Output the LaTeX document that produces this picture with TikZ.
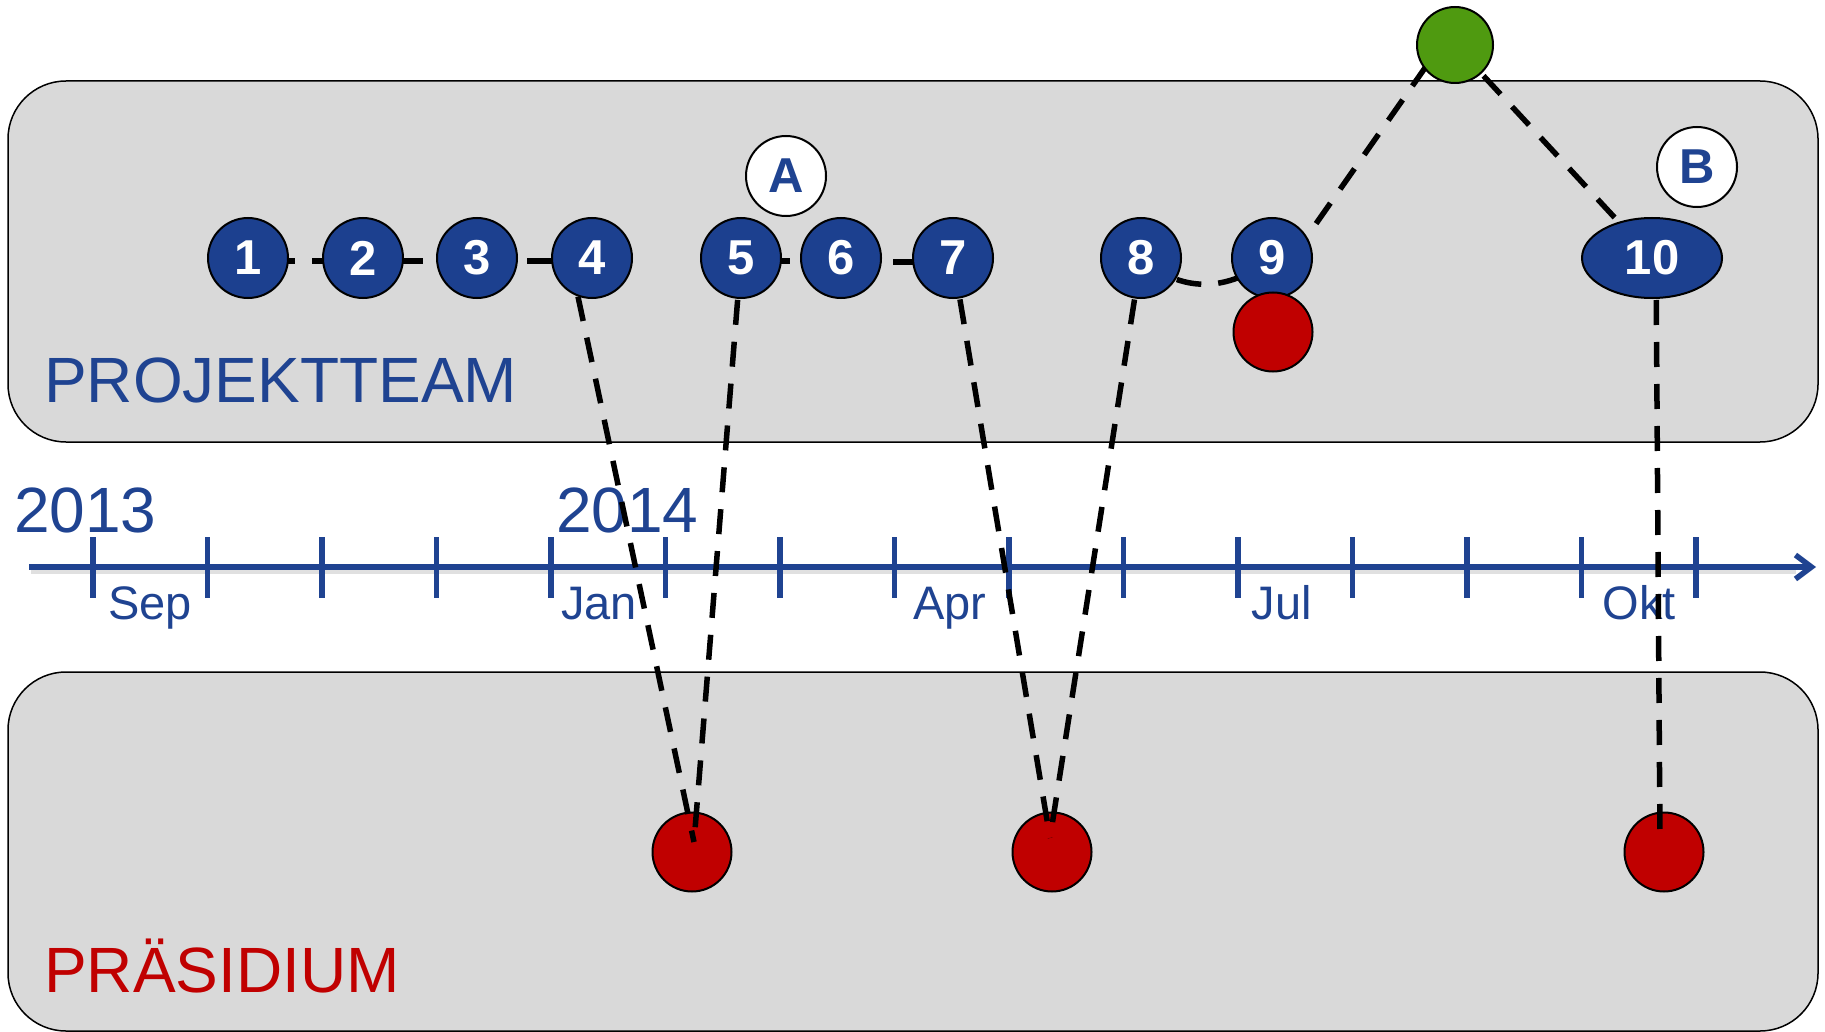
\documentclass[tikz,border=0pt]{standalone}
\usepackage{fontspec}
\setmainfont{Liberation Sans}
\usetikzlibrary{shapes.geometric,arrows.meta,calc}
\definecolor{nblue}{RGB}{28,64,143}
\definecolor{tblue}{RGB}{31,67,145}
\definecolor{nred}{RGB}{192,0,0}
\definecolor{ngreen}{RGB}{79,154,16}
\definecolor{panel}{RGB}{217,217,217}
\pgfdeclarelayer{bg}
\pgfdeclarelayer{mid}
\pgfsetlayers{bg,mid,main}
\tikzset{
  panelbox/.style={draw=black, line width=1.5pt, fill=panel, rounded corners=58pt},
  stepnode/.style={circle, draw=black, line width=2pt, fill=nblue, minimum size=80pt,
    inner sep=0pt, text=white, font=\bfseries\fontsize{49}{49}\selectfont},
  widenode/.style={stepnode, ellipse, minimum width=140pt, minimum height=80pt},
  marknode/.style={circle, draw=black, line width=2pt, fill=white, minimum size=80pt,
    inner sep=0pt, text=tblue, font=\bfseries\fontsize{49}{49}\selectfont},
  reddot/.style={circle, draw=black, line width=2pt, fill=nred, minimum size=79pt, inner sep=0pt},
  greendot/.style={circle, draw=black, line width=2pt, fill=ngreen, minimum size=76pt, inner sep=0pt},
  link/.style={draw=black, line width=5.5pt, dash pattern=on 25pt off 17pt},
  axisline/.style={draw=tblue, line width=5.5pt},
  monthlbl/.style={anchor=base, inner sep=0pt, text=tblue, font=\fontsize{47}{56}\selectfont},
  yearlbl/.style={anchor=base west, inner sep=0pt, text=tblue, font=\fontsize{64}{76}\selectfont},
  grouplbl/.style={anchor=base west, inner sep=0pt, font=\fontsize{64}{76}\selectfont}
}
\begin{document}
\begin{tikzpicture}[x=1pt,y=-1pt]
\useasboundingbox (0,0) rectangle (1825,1032);

% upper group: project team milestones
\node[stepnode] (n1) at (248,258) {1};
\node[stepnode] (n2) at (363,258) {2};
\node[stepnode] (n3) at (477,258) {3};
\node[stepnode] (n4) at (592,258) {4};
\node[stepnode] (n5) at (741,258) {5};
\node[stepnode] (n6) at (841,258) {6};
\node[stepnode] (n7) at (953,258) {7};
\node[stepnode] (n8) at (1141,258) {8};
\node[stepnode] (n9) at (1272,258) {9};
\node[reddot] (r9) at (1273,332) {};
\node[widenode] (n10) at (1652,258) {10};
\node[marknode] (ma) at (786,176) {A};
\node[marknode] (mb) at (1697,167) {B};
\node[greendot] (g) at (1455,45) {};

\begin{pgfonlayer}{bg}
  % panels
  \path[panelbox] (8,81) rectangle (1818,442);
  \path[panelbox] (8,672) rectangle (1818,1031);
  \node[grouplbl, text=tblue] (pt) at (44,402) {PROJEKTTEAM};
  \node[grouplbl, text=nred] (pr) at (44,992) {PRÄSIDIUM};

  % time axis
  \coordinate (ax0) at (29,567);
  \coordinate (ax1) at (1816,567);
  \draw[black, opacity=0.12, line width=6pt] ($(ax0)+(2,4)$) -- ($(ax1)+(-20,4)$);
  \draw[axisline, -{Straight Barb[length=16pt,width=24pt]}] (ax0) -- (ax1);
  \foreach \i in {0,...,14}
    \draw[axisline] ({93+\i*114.5},537) -- ++(0,61);
  \node[yearlbl] (y13) at (14,532) {2013};
  \node[yearlbl] (y14) at (556,532) {2014};
  \node[monthlbl] (m1) at (150,619) {Sep};
  \node[monthlbl] (m2) at (599,619) {Jan};
  \node[monthlbl] (m3) at (950,619) {Apr};
  \node[monthlbl] (m4) at (1282,619) {Jul};
  \node[monthlbl] (m5) at (1639,619) {Okt};

  % lower group: board meetings
  \node[reddot] (r1) at (692,852) {};
  \node[reddot] (r2) at (1052,852) {};
  \node[reddot] (r3) at (1664,852) {};
\end{pgfonlayer}

\begin{pgfonlayer}{mid}
  \draw[link, dash phase=20pt] ($(n1.center)+(0,3)$) -- ($(n2.center)+(0,3)$);
  \draw[link, dash phase=7pt]  ($(n2.center)+(0,3)$) -- ($(n3.center)+(0,3)$);
  \draw[link, dash phase=34pt] ($(n3.center)+(0,3)$) -- ($(n4.center)+(0,3)$);
  \draw[link, dash phase=18pt] ($(n5.center)+(0,3)$) -- ($(n6.center)+(0,3)$);
  \draw[link, dash phase=32pt] ($(n6.center)+(0,4)$) -- ($(n7.center)+(0,4)$);
  \draw[link] (n8.center) .. controls +(40,35) and +(-45,35) .. (n9.center);
  \draw[link] (n4.250) -- ($(r1.center)+(2,-10)$);
  \draw[link] (n5.center) -- ($(r1.center)+(2,-10)$);
  \draw[link] (n7.center) -- ($(r2.center)+(-2,-14)$);
  \draw[link] (n8.center) -- ($(r2.center)+(-2,-14)$);
  \draw[link] ($(n9.center)+(20,0)$) -- ($(g.center)+(-14,0)$);
  \draw[link] (g.center) -- (n10.center);
  \draw[link] ($(n10.center)+(4,0)$) -- ($(r3.center)+(-4,-8)$);
\end{pgfonlayer}
\end{tikzpicture}
\end{document}
